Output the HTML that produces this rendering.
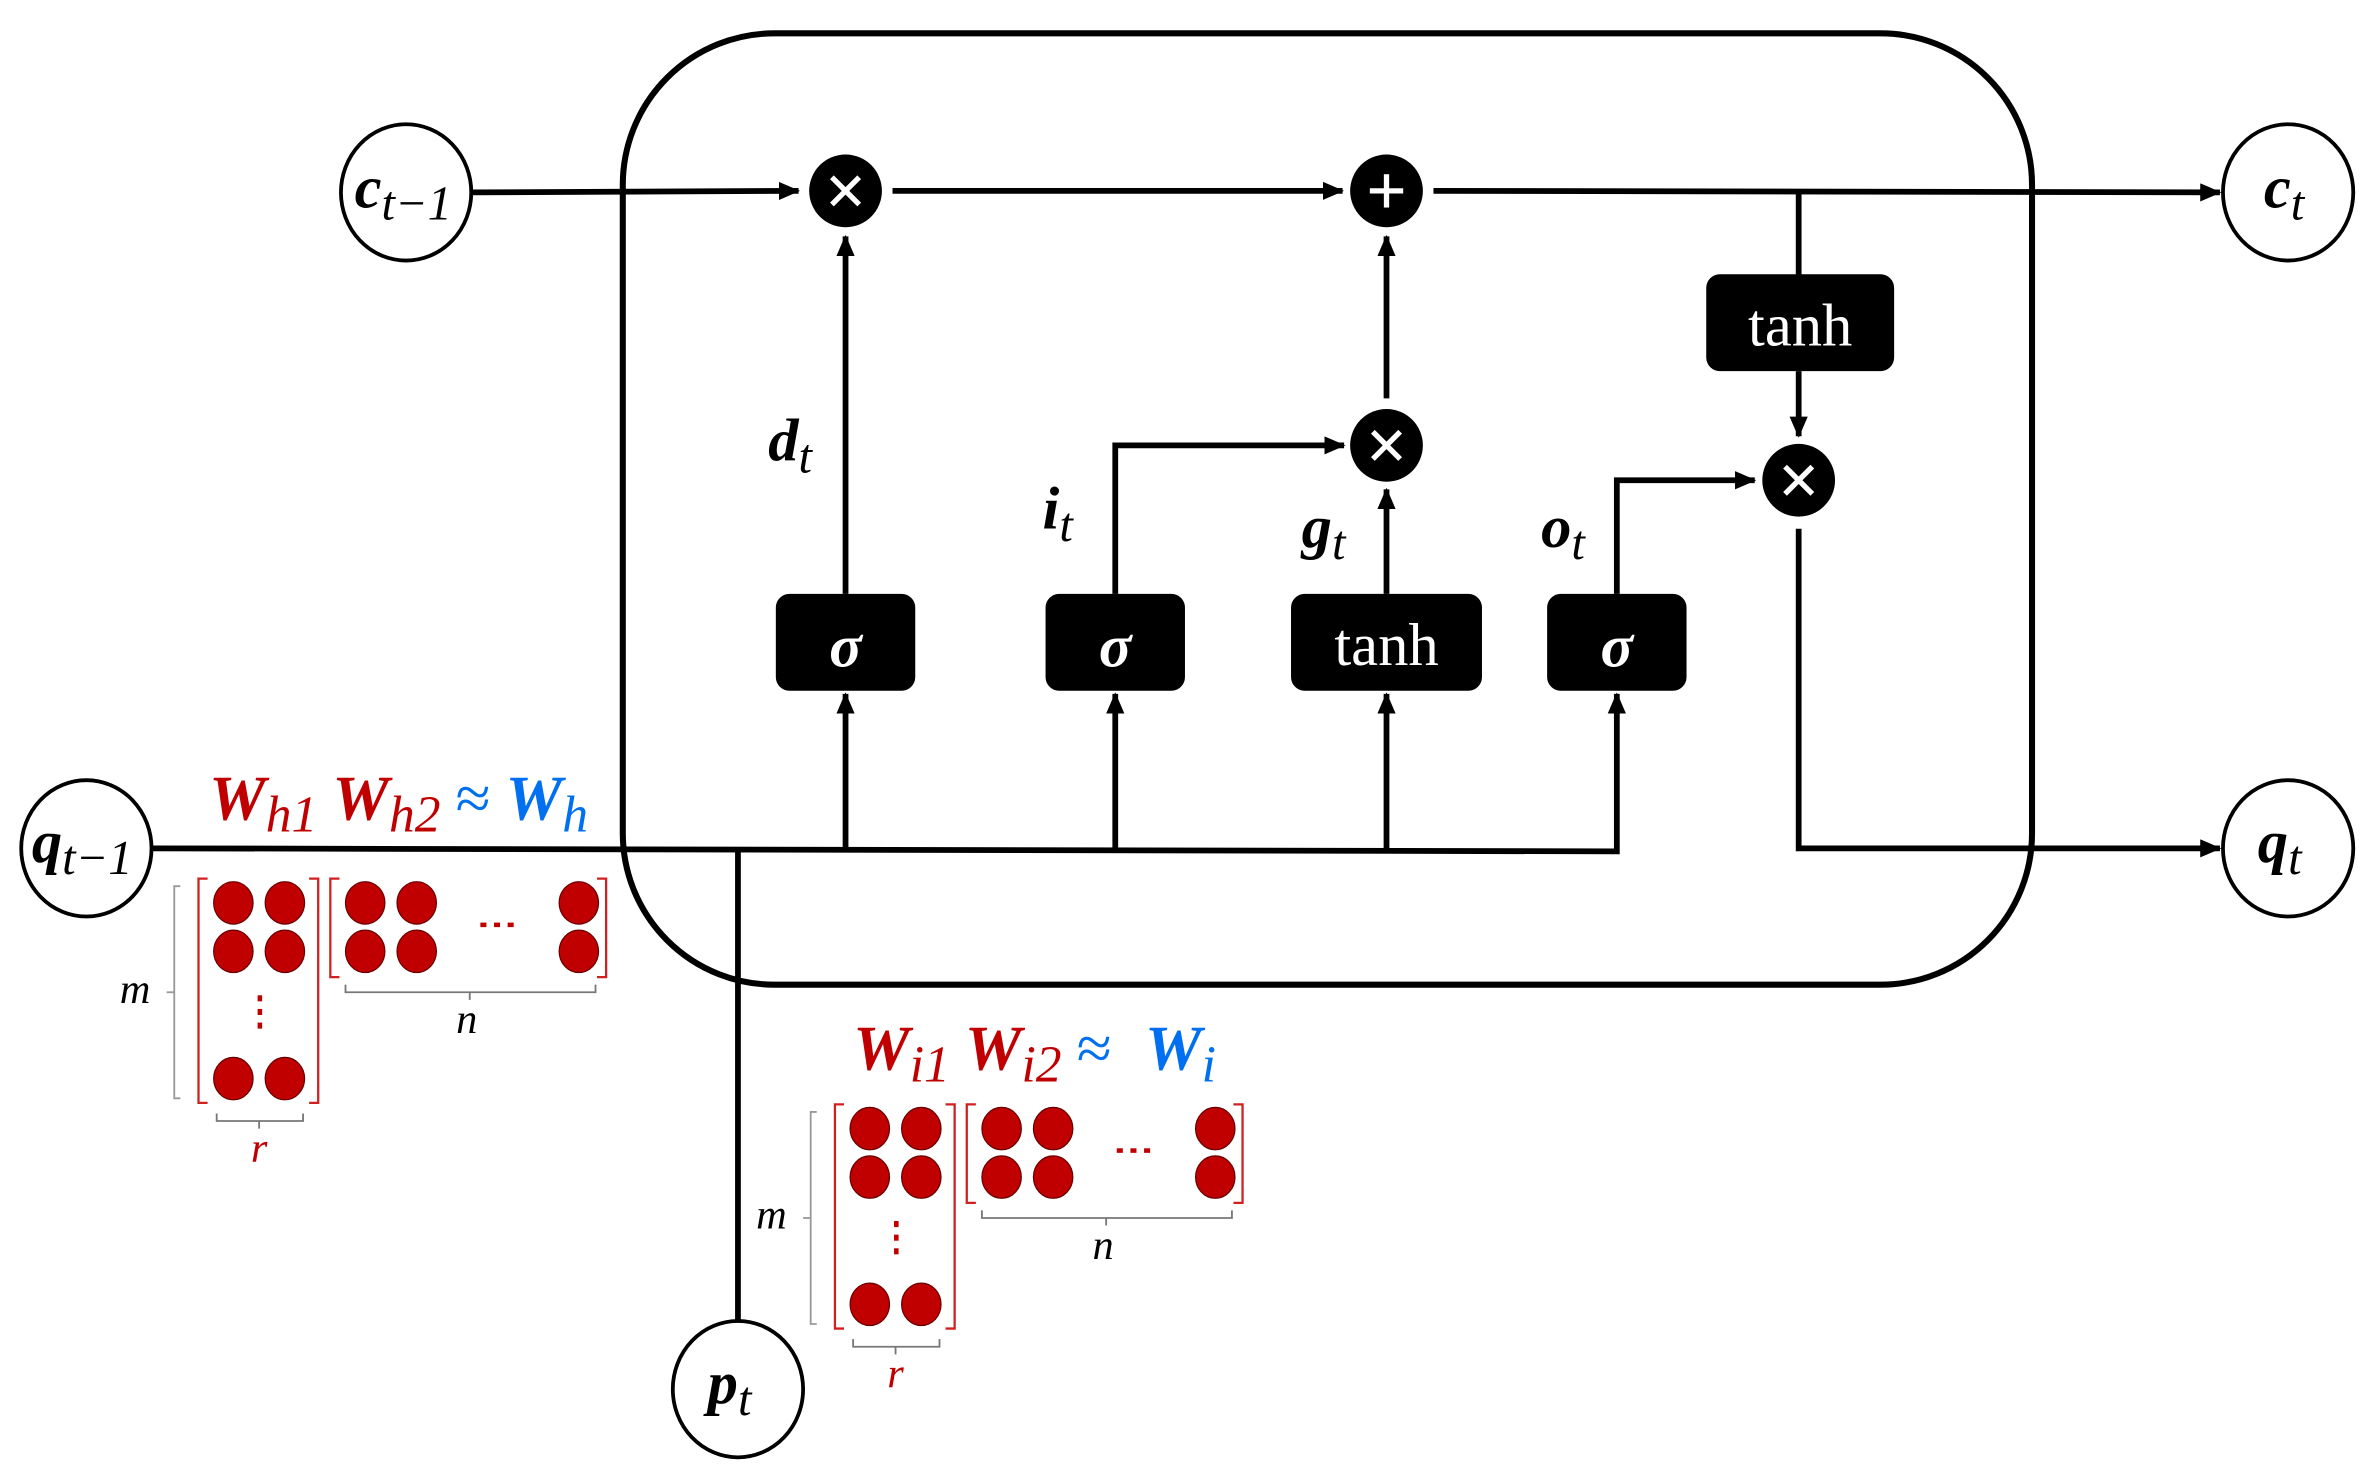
<!DOCTYPE html>
<html><head><meta charset="utf-8"><style>
html,body{margin:0;padding:0;background:#fff}
svg{display:block}
text{font-family:"Liberation Serif",serif}
.b{font-weight:bold;font-style:italic}
.s{font-style:italic;font-weight:normal}
</style></head><body>
<svg width="2376" height="1474" viewBox="0 0 1568 973" preserveAspectRatio="none" xmlns="http://www.w3.org/2000/svg">
<defs>
<marker id="a" markerWidth="14" markerHeight="12" refX="13" refY="6" orient="auto" markerUnits="userSpaceOnUse">
<path d="M0,0 L14,6 L0,12 Z" fill="#000"/></marker>
</defs>
<rect x="411" y="22" width="930" height="628" rx="100" ry="100" fill="none" stroke="#000" stroke-width="4"/>
<g stroke="#000" stroke-width="3.8" fill="none">
<line x1="311" y1="127" x2="527" y2="126" marker-end="url(#a)"/>
<line x1="589" y1="126" x2="886" y2="126" marker-end="url(#a)"/>
<line x1="946" y1="126" x2="1465" y2="127" marker-end="url(#a)"/>
<line x1="1187" y1="127" x2="1187" y2="182"/>
<line x1="1187" y1="245" x2="1187" y2="288" marker-end="url(#a)"/>
<polyline points="1187,349 1187,560 1465,560" marker-end="url(#a)"/>
<polyline points="100,560 1067,562 1067,458" marker-end="url(#a)"/>
<line x1="558" y1="561" x2="558" y2="458" marker-end="url(#a)"/>
<line x1="736" y1="561" x2="736" y2="458" marker-end="url(#a)"/>
<line x1="915" y1="562" x2="915" y2="458" marker-end="url(#a)"/>
<line x1="487" y1="560" x2="487" y2="873"/>
<line x1="558" y1="392" x2="558" y2="156" marker-end="url(#a)"/>
<polyline points="736,392 736,294 887,294" marker-end="url(#a)"/>
<line x1="915" y1="392" x2="915" y2="323" marker-end="url(#a)"/>
<line x1="915" y1="263" x2="915" y2="156" marker-end="url(#a)"/>
<polyline points="1067,392 1067,317 1158,317" marker-end="url(#a)"/>
</g>
<g fill="#000">
<circle cx="558" cy="126" r="24"/><circle cx="915" cy="126" r="24"/>
<circle cx="915" cy="294" r="24"/><circle cx="1187" cy="317" r="24"/>
<rect x="512" y="392" width="92" height="64" rx="9"/>
<rect x="690" y="392" width="92" height="64" rx="9"/>
<rect x="852" y="392" width="126" height="64" rx="9"/>
<rect x="1021" y="392" width="92" height="64" rx="9"/>
<rect x="1126" y="181" width="124" height="64" rx="9"/>
</g>
<g stroke="#fff" stroke-width="3.5">
<line x1="549" y1="117" x2="567" y2="135"/><line x1="567" y1="117" x2="549" y2="135"/>
<line x1="906" y1="285" x2="924" y2="303"/><line x1="924" y1="285" x2="906" y2="303"/>
<line x1="1178" y1="308" x2="1196" y2="326"/><line x1="1196" y1="308" x2="1178" y2="326"/>
<line x1="915" y1="115" x2="915" y2="137"/><line x1="904" y1="126" x2="926" y2="126"/>
</g>
<g fill="#fff" font-size="40" text-anchor="middle">
<text x="558" y="440" class="b">σ</text>
<text x="736" y="440" class="b">σ</text>
<text x="1067" y="440" class="b">σ</text>
<text x="915" y="439">tanh</text>
<text x="1188" y="228">tanh</text>
</g>
<g fill="#fff" stroke="#000" stroke-width="2.5">
<ellipse cx="268" cy="127" rx="43" ry="45"/>
<ellipse cx="1510" cy="127" rx="43" ry="45"/>
<ellipse cx="57" cy="560" rx="43" ry="45"/>
<ellipse cx="1510" cy="560" rx="43" ry="45"/>
<ellipse cx="487" cy="917" rx="43" ry="45"/>
</g>
<g font-size="40" fill="#000">
<text x="234" y="137" class="b">c<tspan class="s" font-size="32" dy="8">t−1</tspan></text>
<text x="1494" y="137" class="b">c<tspan class="s" font-size="32" dy="8">t</tspan></text>
<text x="21" y="569" class="b">q<tspan class="s" font-size="32" dy="8">t−1</tspan></text>
<text x="1490" y="569" class="b">q<tspan class="s" font-size="32" dy="8">t</tspan></text>
<text x="467" y="926" class="b">p<tspan class="s" font-size="32" dy="8">t</tspan></text>
<text x="507" y="304" class="b">d<tspan class="s" font-size="32" dy="8">t</tspan></text>
<text x="688" y="349" class="b">i<tspan class="s" font-size="32" dy="8">t</tspan></text>
<text x="859" y="361" class="b">g<tspan class="s" font-size="32" dy="8">t</tspan></text>
<text x="1017" y="361" class="b">o<tspan class="s" font-size="32" dy="8">t</tspan></text>
</g>
<g font-size="42">
<text x="138" y="541"><tspan class="b" fill="#c00000">W</tspan><tspan class="s" fill="#c00000" font-size="34" dy="8">h1</tspan><tspan class="b" fill="#c00000" dy="-8" dx="10">W</tspan><tspan class="s" fill="#c00000" font-size="34" dy="8">h2</tspan><tspan fill="#0070f0" dy="-8" dx="10">≈</tspan><tspan class="b" fill="#0070f0" dx="10">W</tspan><tspan class="s" fill="#0070f0" font-size="34" dy="8">h</tspan></text>
<text x="563" y="706"><tspan class="b" fill="#c00000">W</tspan><tspan class="s" fill="#c00000" font-size="34" dy="8">i1</tspan><tspan class="b" fill="#c00000" dy="-8" dx="10">W</tspan><tspan class="s" fill="#c00000" font-size="34" dy="8">i2</tspan><tspan fill="#0070f0" dy="-8" dx="10">≈</tspan><tspan class="b" fill="#0070f0" dx="22">W</tspan><tspan class="s" fill="#0070f0" font-size="34" dy="8">i</tspan></text>
</g>
<g id="mh">
<path d="M119,585 L115,585 L115,725 L119,725" fill="none" stroke="#999" stroke-width="1.2"/>
<line x1="110" y1="655" x2="115" y2="655" stroke="#999" stroke-width="1.2"/>
<text x="79" y="662" font-size="28" class="s">m</text>
<path d="M137,580 L131,580 L131,728 L137,728 M204,580 L210,580 L210,728 L204,728" fill="none" stroke="#d02020" stroke-width="1.5"/>
<path d="M224,580 L218,580 L218,645 L224,645 M394,580 L400,580 L400,645 L394,645" fill="none" stroke="#d02020" stroke-width="1.5"/>
<g fill="#c00000" stroke="#600" stroke-width="0.8">
<ellipse cx="154" cy="596" rx="13" ry="14"/><ellipse cx="188" cy="596" rx="13" ry="14"/>
<ellipse cx="154" cy="628" rx="13" ry="14"/><ellipse cx="188" cy="628" rx="13" ry="14"/>
<ellipse cx="154" cy="712" rx="13" ry="14"/><ellipse cx="188" cy="712" rx="13" ry="14"/>
<ellipse cx="241" cy="596" rx="13" ry="14"/><ellipse cx="275" cy="596" rx="13" ry="14"/><ellipse cx="382" cy="596" rx="13" ry="14"/>
<ellipse cx="241" cy="628" rx="13" ry="14"/><ellipse cx="275" cy="628" rx="13" ry="14"/><ellipse cx="382" cy="628" rx="13" ry="14"/>
</g>
<g fill="#c00000"><rect x="170" y="657" width="3" height="4"/><rect x="170" y="666" width="3" height="4"/><rect x="170" y="675" width="3" height="4"/>
<rect x="317" y="609" width="4" height="3"/><rect x="326" y="609" width="4" height="3"/><rect x="335" y="609" width="4" height="3"/></g>
<path d="M228,650 L228,655 L393,655 L393,650 M310,655 L310,660" fill="none" stroke="#777" stroke-width="1.2"/>
<text x="308" y="682" font-size="28" class="s" text-anchor="middle">n</text>
<path d="M143,735 L143,740 L200,740 L200,735 M171,740 L171,745" fill="none" stroke="#777" stroke-width="1.2"/>
<text x="171" y="767" font-size="28" class="s" fill="#c00000" text-anchor="middle">r</text>
</g>
<use href="#mh" x="420" y="149"/>
</svg>
</body></html>
